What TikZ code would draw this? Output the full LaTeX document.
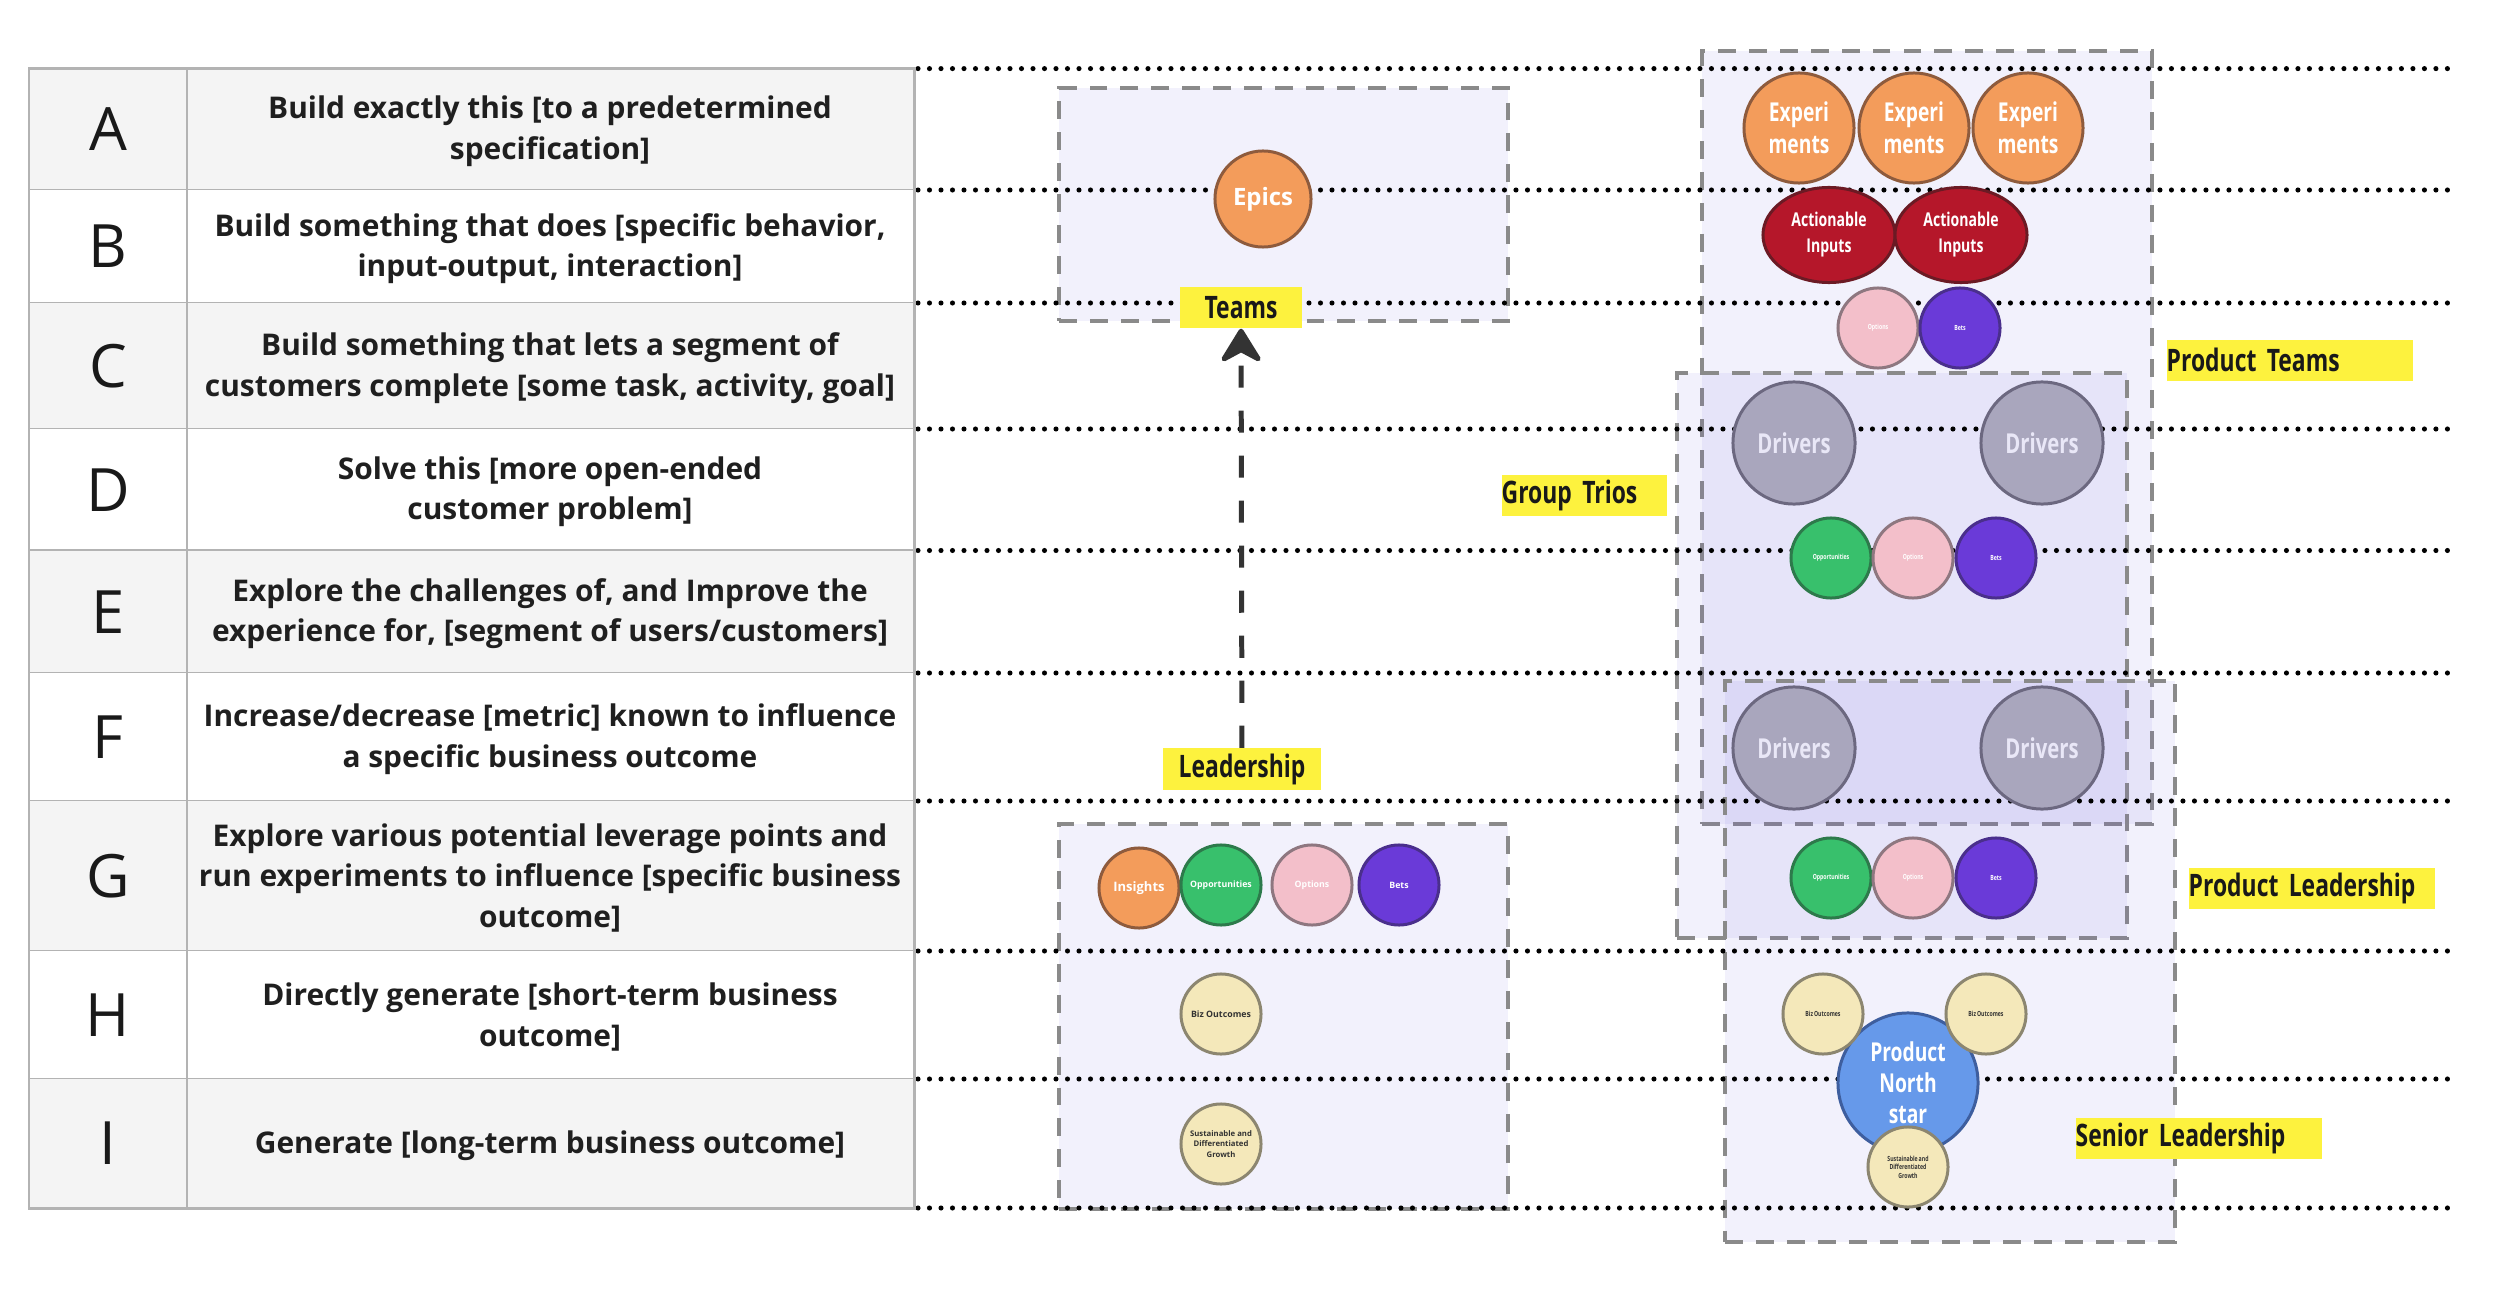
\documentclass[tikz,border=0pt]{standalone}
\usepackage{fontspec}
\setmainfont{Open Sans}
\newfontfamily\condfont[FakeStretch=0.74, WordSpace=0.7]{Open Sans}
\usetikzlibrary{arrows.meta,shapes.geometric}

\definecolor{rowgray}{HTML}{F4F4F4}
\definecolor{rulegray}{HTML}{B3B3B3}
\definecolor{boxline}{HTML}{8A8A8A}
\definecolor{lavender}{HTML}{6450DC}
\definecolor{tagyellow}{HTML}{FDF23E}
\definecolor{arrowgray}{HTML}{333333}
\definecolor{orangefill}{HTML}{F39C5B}
\definecolor{orangeline}{HTML}{8E5B3D}
\definecolor{greenfill}{HTML}{38C06C}
\definecolor{greenline}{HTML}{2D7A4B}
\definecolor{pinkfill}{HTML}{F3BFCA}
\definecolor{pinkline}{HTML}{8E7780}
\definecolor{betsfill}{HTML}{6A3AD8}
\definecolor{betsline}{HTML}{4A2F8C}
\definecolor{redfill}{HTML}{B5172A}
\definecolor{redline}{HTML}{6B1A24}
\definecolor{drvfill}{HTML}{A9A6BD}
\definecolor{drvline}{HTML}{6C6880}
\definecolor{drvtext}{HTML}{E9E7F7}
\definecolor{bizfill}{HTML}{F4E8BA}
\definecolor{bizline}{HTML}{8C8670}
\definecolor{northfill}{HTML}{6699EA}
\definecolor{northline}{HTML}{3E5E9E}

\begin{document}
\begin{tikzpicture}[
  x=0.01cm,
  y=-0.01cm,
  >=Stealth,
  every node/.style={inner sep=0pt},
  letter/.style={font=\fontsize{17pt}{20pt}\selectfont, text=black!90},
  celltext/.style={align=center, font=\fontsize{8.5pt}{11.5pt}\selectfont\bfseries, text=black!88},
  tablerule/.style={draw=rulegray, line width=0.85pt},
  rowdots/.style={line width=1.45pt, dash pattern=on 0pt off 3.27pt, line cap=round},
  grpbox/.style={draw=boxline, line width=1.1pt, dash pattern=on 5.1pt off 3.7pt,
    fill=lavender, fill opacity=0.08, anchor=north west},
  ball/.style={circle, draw, line width=0.85pt, align=center, text=white,
    font=\condfont\bfseries},
  orangeball/.style={ball, fill=orangefill, draw=orangeline},
  greenball/.style={ball, fill=greenfill, draw=greenline},
  pinkball/.style={ball, fill=pinkfill, draw=pinkline},
  betsball/.style={ball, fill=betsfill, draw=betsline},
  drvball/.style={ball, fill=drvfill, draw=drvline, text=drvtext, minimum size=1.22cm,
    font=\condfont\bfseries\fontsize{7.8pt}{8pt}\selectfont},
  bizball/.style={ball, fill=bizfill, draw=bizline, text=black!80},
  tiny/.style={minimum size=0.80cm, font=\condfont\bfseries\fontsize{2pt}{2.4pt}\selectfont},
  small/.style={minimum size=0.80cm, font=\bfseries\fontsize{2.5pt}{3.4pt}\selectfont},
  tag/.style={fill=tagyellow, minimum height=0.41cm,
    font=\condfont\bfseries\fontsize{8.8pt}{9pt}\selectfont, text=black!90},
  lefttag/.style={tag, text width=2.46cm, align=left, anchor=north west},
]
  \useasboundingbox[fill=white] (0,0) rectangle (2502,1294);

  % group boxes (middle column)
  \node[grpbox, minimum width=4.49cm, minimum height=2.33cm] (epicbox) at (1057,86) {};
  \node[grpbox, minimum width=4.49cm, minimum height=3.85cm] (leadbox) at (1057,822) {};
  % group boxes (right column)
  \node[grpbox, minimum width=4.50cm, minimum height=7.73cm] (teambox) at (1700,49) {};
  \node[grpbox, minimum width=4.50cm, minimum height=5.65cm] (triobox) at (1675,371) {};
  \node[grpbox, minimum width=4.50cm, minimum height=5.61cm] (plbox) at (1723,679) {};

  % row guides
  \foreach \y in {68.6,190,303,429,550.5,673,801,951,1079,1208}
    \draw[rowdots] (918,\y) -- (2457,\y);

  % table
  \foreach \ya/\yb/\ltr/\txt/\clr [count=\i] in {
    68.6/190/A/{Build exactly this [to a predetermined\\specification]}/rowgray,
    190/303/B/{Build something that does [specific behavior,\\input-output, interaction]}/white,
    303/429/C/{Build something that lets a segment of\\customers complete [some task, activity, goal]}/rowgray,
    429/550.5/D/{Solve this [more open-ended\\customer problem]}/white,
    550.5/673/E/{Explore the challenges of, and Improve the\\experience for, [segment of users/customers]}/rowgray,
    673/801/F/{Increase/decrease [metric] known to influence\\a specific business outcome}/white,
    801/951/G/{Explore various potential leverage points and\\run experiments to influence [specific business\\outcome]}/rowgray,
    951/1079/H/{Directly generate [short-term business\\outcome]}/white,
    1079/1208/I/{Generate [long-term business outcome]}/rowgray}
  {
    \fill[\clr] (29,\ya) rectangle (914,\yb);
    \node[letter] (ltr\i) at (108,{(\ya+\yb)/2}) {\ltr};
    \node[celltext] (goal\i) at (550,{(\ya+\yb)/2+2}) {\txt};
    \draw[tablerule] (29,\yb) -- (914,\yb);
  }
  \draw[tablerule] (29,68.6) rectangle (914,1208);
  \draw[tablerule] (187,68.6) -- (187,1208);

  % middle column
  \node[orangeball, minimum size=0.96cm, font=\bfseries\fontsize{6.8pt}{8pt}\selectfont]
    (epics) at (1263,199) {Epics};
  \node[orangeball, small, font=\bfseries\fontsize{3.7pt}{4pt}\selectfont] (insights) at (1139,888) {Insights};
  \node[greenball, small] (oppmid) at (1221,885) {Opportunities};
  \node[pinkball, small] (optmid) at (1312,885) {Options};
  \node[betsball, small] (betmid) at (1399,885) {Bets};
  \node[bizball, small] (bizmid) at (1221,1014) {Biz Outcomes};
  \node[bizball, small, font=\bfseries\fontsize{2.2pt}{3.1pt}\selectfont]
    (growmid) at (1221,1144) {Sustainable and\\Differentiated\\Growth};

  \node[tag, minimum width=1.22cm] (teams) at (1241,307.5) {Teams};
  \node[tag, minimum width=1.57cm] (leadership) at (1242,769) {Leadership};
  \draw[->, arrowgray, line width=1.42pt, dash pattern=on 6.3pt off 6.5pt,
    arrows={-Stealth[length=11pt, width=13.5pt, round]}] (leadership) -- (teams);

  % right column: product teams
  \foreach \nm/\xx in {expA/1799, expB/1914, expC/2028}
    \node[orangeball, minimum size=1.10cm, font=\condfont\bfseries\fontsize{7.4pt}{9.1pt}\selectfont]
      (\nm) at (\xx,128) {Experi\\ments};
  \foreach \nm/\xx in {inpA/1829, inpB/1961}
    \node[ball, ellipse, fill=redfill, draw=redline, minimum width=1.32cm, minimum height=0.95cm,
      font=\condfont\bfseries\fontsize{5.4pt}{7.4pt}\selectfont] (\nm) at (\xx,235) {Actionable\\Inputs};
  \node[pinkball, tiny] (opttop) at (1878,328) {Options};
  \node[betsball, tiny] (bettop) at (1960,328) {Bets};

  % right column: group trios
  \node[drvball] (drvA) at (1794,443) {Drivers};
  \node[drvball] (drvB) at (2042,443) {Drivers};
  \node[greenball, tiny] (oppA) at (1831,558) {Opportunities};
  \node[pinkball, tiny] (optA) at (1913,558) {Options};
  \node[betsball, tiny] (betA) at (1996,558) {Bets};

  % right column: product leadership
  \node[drvball] (drvC) at (1794,748) {Drivers};
  \node[drvball] (drvD) at (2042,748) {Drivers};
  \node[greenball, tiny] (oppB) at (1831,878) {Opportunities};
  \node[pinkball, tiny] (optB) at (1913,878) {Options};
  \node[betsball, tiny] (betB) at (1996,878) {Bets};

  % right column: senior leadership
  \node[ball, fill=northfill, draw=northline, minimum size=1.40cm,
    font=\condfont\bfseries\fontsize{7.4pt}{8.8pt}\selectfont] (north) at (1908,1083) {Product\\North\\star};
  \node[bizball, tiny] (bizA) at (1823,1014) {Biz Outcomes};
  \node[bizball, tiny] (bizB) at (1986,1014) {Biz Outcomes};
  \node[bizball, tiny] (grow) at (1908,1167) {Sustainable and\\Differentiated\\Growth};

  \node[lefttag] (teamstag) at (2166,339) {Product Teams};
  \node[lefttag, text width=1.65cm] (triotag) at (1501,474) {Group Trios};
  \node[lefttag] (pltag) at (2188,867) {Product Leadership};
  \node[lefttag] (sltag) at (2075,1117) {Senior Leadership};
\end{tikzpicture}
\end{document}
